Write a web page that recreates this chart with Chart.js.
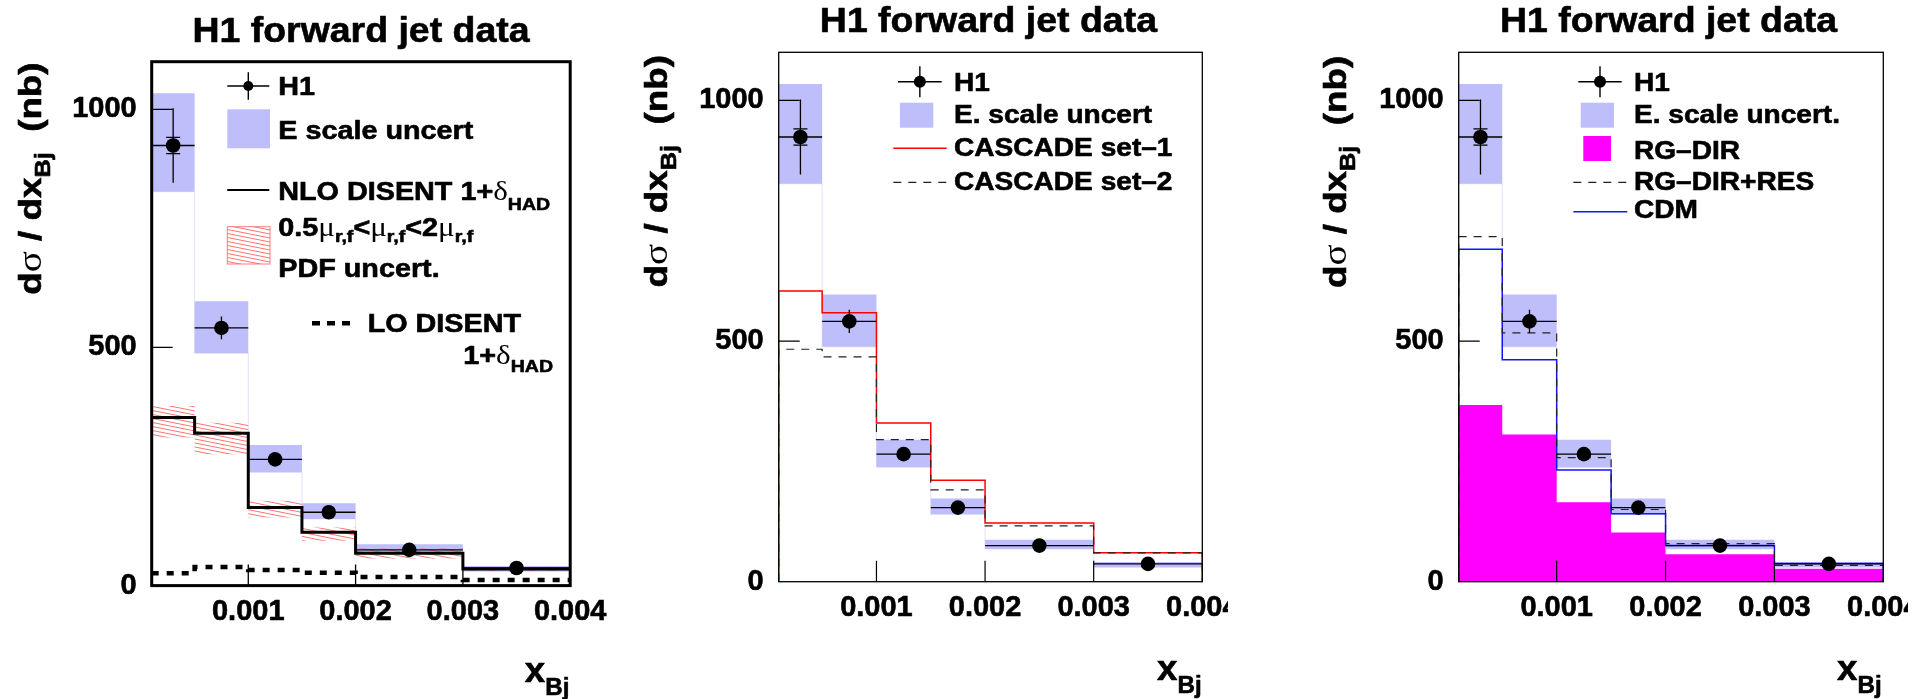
<!DOCTYPE html>
<html>
<head>
<meta charset="utf-8">
<title>H1 forward jet data</title>
<script src="https://cdn.jsdelivr.net/npm/chart.js@4.4.1/dist/chart.umd.min.js"></script>
<style>
  html, body { margin: 0; padding: 0; background: #fff; }
  body { width: 1915px; height: 699px; position: relative; overflow: hidden; }
  canvas { position: absolute; top: 0; }
</style>
</head>
<body>
<canvas id="panel1" width="640" height="699" style="left:0px"></canvas>
<canvas id="panel2" width="588" height="699" style="left:640px"></canvas>
<canvas id="panel3" width="608" height="699" style="left:1300px"></canvas>
<script>
// x_Bj bins
const xEdges = [0.0001, 0.0005, 0.001, 0.0015, 0.002, 0.003, 0.004];
const xCenters = [0.0003, 0.00075, 0.00125, 0.00175, 0.0025, 0.0035];
const xTicks = [0.001, 0.002, 0.003, 0.004];
const yTicks = [0, 500, 1000];

// H1 data, dsigma/dx_Bj in nb
const h1Values = [924, 541, 265, 154, 75, 37];
const h1TotErr = [78, 24, 10, 6, 3, 2];
const h1StatErr = [17, 8, 4, 3, 2, 1];
const escaleUp = [1034, 597, 295, 173, 87, 41];
const escaleDown = [827, 488, 238, 140, 68, 30];

// left: DISENT
const nloDisent = [353, 320, 164, 112, 68, 35];
const nloBandUp = [377, 342, 178, 122, 78, 38];
const nloBandDown = [311, 276, 143, 94, 57, 31];
const loDisent = [26, 39, 33, 27, 18, 12];

// middle: CASCADE
const cascadeSet1 = [604, 559, 330, 211, 122, 60];
const cascadeSet2 = [483, 467, 295, 191, 116, 60];

// right: RAPGAP / CDM
const rgDir = [367, 306, 165, 102, 57, 27];
const rgDirRes = [717, 517, 258, 150, 79, 34];
const cdm = [691, 461, 232, 141, 75, 38];

const ESCALE = '#bebefa';
const B = s => `bold ${s}px "Liberation Sans", Arial, Helvetica, sans-serif`;
const G = s => `${s}px "Liberation Serif", "Times New Roman", serif`;

// hatch for the scale / pdf band
const hatchCanvas = document.createElement('canvas');
hatchCanvas.width = 20; hatchCanvas.height = 4;
const hg = hatchCanvas.getContext('2d');
hg.strokeStyle = 'rgba(255,80,80,0.9)';
hg.lineWidth = 0.9;
for (let k = -1; k <= 1; k++) {
  hg.beginPath(); hg.moveTo(0, 4 * k); hg.lineTo(20, 4 * k + 4); hg.stroke();
}
const hatch = hg.createPattern(hatchCanvas, 'repeat');

function steps(vals, fromZero) {
  const pts = [];
  const last = xEdges.length - 1;
  if (fromZero) pts.push({x: xEdges[0], y: 0});
  vals.forEach((v, i) => pts.push({x: xEdges[i], y: v}));
  pts.push({x: xEdges[last], y: vals[vals.length - 1]});
  if (fromZero) pts.push({x: xEdges[last], y: 0});
  return pts;
}

function stepLine(vals, color, width, dash, order, fromZero) {
  return {type: 'line', data: steps(vals, fromZero), stepped: true, borderColor: color,
    borderWidth: width, borderDash: dash, pointRadius: 0, fill: false, order: order};
}

function band(up, down, bg, edge, order) {
  return [
    {type: 'line', data: steps(up), stepped: true, borderColor: 'rgba(0,0,0,0)', borderWidth: 1,
      backgroundColor: bg, fill: '+1', pointRadius: 0, order: order},
    {type: 'line', data: steps(down), stepped: true, borderColor: edge, borderWidth: 1,
      fill: false, pointRadius: 0, order: order + 0.5}
  ];
}

function h1Set() {
  return {type: 'scatter', data: xCenters.map((x, i) => ({x: x, y: h1Values[i]})),
    pointRadius: 7.3, pointBackgroundColor: '#000', pointBorderColor: '#000', pointBorderWidth: 0,
    showLine: false, order: 0};
}

function makeScales(yW, xH) {
  const font = {family: '"Liberation Sans", Arial, sans-serif', size: 29, weight: 'bold', lineHeight: 1.2};
  const tk = {font: font, color: '#000', textStrokeColor: '#000', textStrokeWidth: 0.6, autoSkip: false};
  return {
    x: {
      type: 'linear', min: xEdges[0], max: xEdges[xEdges.length - 1],
      grid: {display: false, drawTicks: false}, border: {display: false},
      afterBuildTicks: a => { a.ticks = xTicks.map(v => ({value: v})); },
      afterFit: a => { a.height = xH; a.paddingLeft = 0; a.paddingRight = 0; },
      ticks: Object.assign({}, tk, {padding: 9, maxRotation: 0, minRotation: 0, callback: v => v.toFixed(3)})
    },
    y: {
      type: 'linear', min: 0, max: 1100,
      grid: {display: false, drawTicks: false}, border: {display: false},
      afterBuildTicks: a => { a.ticks = yTicks.map(v => ({value: v})); },
      afterFit: a => { a.width = yW; a.paddingTop = 0; a.paddingBottom = 0; },
      ticks: Object.assign({}, tk, {padding: 15, callback: v => String(v)})
    }
  };
}

// text with sub/superscripts, stretched a little like the original
function rich(ctx, x, y, segs, opt) {
  const sx = opt.stretch || 1;
  ctx.save();
  ctx.translate(x, y);
  if (opt.rotate) ctx.rotate(opt.rotate);
  ctx.fillStyle = '#000';
  ctx.strokeStyle = '#000';
  ctx.lineWidth = 0.6;
  ctx.lineJoin = 'round';
  ctx.textBaseline = 'alphabetic';
  ctx.textAlign = 'left';
  let total = 0;
  const widths = segs.map(s => {
    ctx.font = s[1];
    const w = ctx.measureText(s[0]).width * sx;
    total += w;
    return w;
  });
  let cx = opt.align === 'right' ? -total : (opt.align === 'center' ? -total / 2 : 0);
  segs.forEach((s, i) => {
    ctx.font = s[1];
    ctx.save();
    ctx.translate(cx, s[2] || 0);
    ctx.scale(sx, 1);
    ctx.fillText(s[0], 0, 0);
    if (s[1].startsWith('bold')) ctx.strokeText(s[0], 0, 0);
    ctx.restore();
    cx += widths[i];
  });
  ctx.restore();
}

function title(ctx, cx, base) {
  rich(ctx, cx, base, [['H1 forward jet data', B(35)]], {align: 'center', stretch: 1.07});
}
function yTitle(ctx, bx, topY) {
  rich(ctx, bx, topY, [['d', B(32)], ['σ', G(34)], [' / dx', B(32)], ['Bj', B(22), 9], ['  (nb)', B(32)]],
    {rotate: -Math.PI / 2, align: 'right', stretch: 1.15});
}
function xTitle(ctx, right, base) {
  rich(ctx, right, base, [['x', B(35)], ['Bj', B(23), 13]], {align: 'right', stretch: 1.05});
}
function keyLine(ctx, x0, x1, y, color, w, dash) {
  ctx.save();
  ctx.strokeStyle = color; ctx.lineWidth = w; ctx.setLineDash(dash);
  ctx.beginPath(); ctx.moveTo(x0, y); ctx.lineTo(x1, y); ctx.stroke();
  ctx.restore();
}
function h1Key(ctx, x0, x1, y, r, h) {
  const c = (x0 + x1) / 2;
  ctx.save();
  ctx.strokeStyle = '#000'; ctx.lineWidth = 1.4;
  ctx.beginPath();
  ctx.moveTo(x0, y); ctx.lineTo(x1, y);
  ctx.moveTo(c, y - h); ctx.lineTo(c, y + h);
  ctx.stroke();
  ctx.fillStyle = '#000';
  ctx.beginPath(); ctx.arc(c, y, r, 0, 2 * Math.PI); ctx.fill();
  ctx.restore();
}

function panelPlugin(opts) {
  return {
    id: 'h1panel',
    afterDatasetsDraw(chart) {
      const {ctx, chartArea: a} = chart;
      const xs = chart.scales.x, ys = chart.scales.y;
      ctx.save();
      ctx.strokeStyle = '#000';
      ctx.setLineDash([]);
      ctx.lineWidth = 1.3;
      ctx.beginPath();
      h1Values.forEach((v, i) => {
        const px = xs.getPixelForValue(xCenters[i]);
        const py = ys.getPixelForValue(v);
        ctx.moveTo(xs.getPixelForValue(xEdges[i]), py);
        ctx.lineTo(xs.getPixelForValue(xEdges[i + 1]), py);
        ctx.moveTo(px, ys.getPixelForValue(v + h1TotErr[i]));
        ctx.lineTo(px, ys.getPixelForValue(v - h1TotErr[i]));
        const cap = py - ys.getPixelForValue(v + h1StatErr[i]);
        if (cap > 8) {
          [v + h1StatErr[i], v - h1StatErr[i]].forEach(e => {
            const ey = ys.getPixelForValue(e);
            ctx.moveTo(px - 7, ey); ctx.lineTo(px + 7, ey);
          });
        }
      });
      ctx.stroke();
      // inward tick marks
      ctx.lineWidth = opts.tickW;
      ctx.beginPath();
      yTicks.forEach(t => {
        if (t > 0) { const py = ys.getPixelForValue(t); ctx.moveTo(a.left, py); ctx.lineTo(a.left + 21, py); }
      });
      xTicks.forEach(t => {
        const px = xs.getPixelForValue(t);
        if (px < a.right - 1) { ctx.moveTo(px, a.bottom); ctx.lineTo(px, a.bottom - 21); }
      });
      ctx.stroke();
      ctx.lineWidth = opts.frameW;
      ctx.strokeRect(a.left, a.top, a.right - a.left, a.bottom - a.top);
      ctx.restore();
    },
    afterDraw(chart) {
      const ctx = chart.ctx;
      ctx.save();
      ctx.translate(-opts.offset, 0);
      opts.texts(ctx);
      ctx.restore();
    }
  };
}

function makeChart(id, datasets, lay, plugin) {
  return new Chart(document.getElementById(id), {
    type: 'line',
    data: {datasets: datasets},
    options: {
      responsive: false, animation: false, events: [],
      layout: {padding: {left: 0, right: lay.right, top: lay.top, bottom: 0}},
      plugins: {legend: {display: false}, tooltip: {enabled: false}},
      scales: makeScales(lay.yW, lay.xH)
    },
    plugins: [plugin]
  });
}

// ---- left panel
makeChart('panel1', [
  h1Set(),
  stepLine(nloDisent, '#000', 3, [], 2, false),
  stepLine(loDisent, '#000', 4.5, [7, 8], 3, false),
  ...band(nloBandUp, nloBandDown, hatch, 'rgba(0,0,0,0)', 5),
  ...band(escaleUp, escaleDown, ESCALE, 'rgba(190,190,250,0.45)', 8)
], {yW: 151.7, right: 69.8, top: 61.7, xH: 113.4}, panelPlugin({
  offset: 0, frameW: 3, tickW: 1.3,
  texts(ctx) {
    title(ctx, 361, 42.4);
    yTitle(ctx, 40.8, 62.4);
    xTitle(ctx, 569.4, 682);
    h1Key(ctx, 227.3, 269.3, 86, 5, 13.7);
    ctx.fillStyle = ESCALE; ctx.fillRect(227.3, 109.3, 42.7, 39);
    keyLine(ctx, 227.3, 269.3, 190, '#000', 2, []);
    ctx.fillStyle = hatch; ctx.fillRect(227.3, 226.7, 42.7, 37.3);
    ctx.strokeStyle = 'rgba(255,110,110,0.9)'; ctx.lineWidth = 1; ctx.strokeRect(227.3, 226.7, 42.7, 37.3);
    keyLine(ctx, 312, 350, 323.3, '#000', 4.5, [8, 7]);
    const L = {stretch: 1.15};
    rich(ctx, 278.3, 95.3, [['H1', B(25)]], L);
    rich(ctx, 278.3, 138.7, [['E scale uncert', B(25)]], L);
    rich(ctx, 278.3, 200.2, [['NLO DISENT 1+', B(25)], ['δ', G(27)], ['HAD', B(17), 10]], L);
    rich(ctx, 278.3, 236, [['0.5', B(25)], ['μ', G(27)], ['r,f', B(17), 6], ['<', B(25)], ['μ', G(27)],
      ['r,f', B(17), 6], ['<2', B(25)], ['μ', G(27)], ['r,f', B(17), 6]], L);
    rich(ctx, 278.3, 276.8, [['PDF uncert.', B(25)]], L);
    rich(ctx, 367.7, 332.3, [['LO DISENT', B(25)]], L);
    rich(ctx, 553, 364, [['1+', B(25)], ['δ', G(27)], ['HAD', B(17), 8]], {stretch: 1.15, align: 'right'});
  }
}));

// ---- middle panel
makeChart('panel2', [
  h1Set(),
  stepLine(cascadeSet2, '#222', 1.2, [8, 7], 1, true),
  stepLine(cascadeSet1, '#ff0000', 1.5, [], 2, true),
  ...band(escaleUp, escaleDown, ESCALE, 'rgba(190,190,250,0.45)', 8)
], {yW: 138.7, right: 25.7, top: 52.3, xH: 117.3}, panelPlugin({
  offset: 640, frameW: 1.3, tickW: 1.2,
  texts(ctx) {
    title(ctx, 988.4, 32.2);
    yTitle(ctx, 667, 55);
    xTitle(ctx, 1201.7, 680);
    h1Key(ctx, 898, 941.7, 81.7, 6, 15.5);
    ctx.fillStyle = ESCALE; ctx.fillRect(900, 102.7, 33.3, 25);
    keyLine(ctx, 893.3, 946.7, 148.3, '#ff0000', 1.5, []);
    keyLine(ctx, 893.3, 946.7, 182.3, '#222', 1.3, [8, 7]);
    const L = {stretch: 1.08};
    rich(ctx, 954, 90.6, [['H1', B(26)]], L);
    rich(ctx, 954, 122.8, [['E. scale uncert', B(26)]], L);
    rich(ctx, 954, 155.5, [['CASCADE set–1', B(26)]], L);
    rich(ctx, 954, 189.8, [['CASCADE set–2', B(26)]], L);
  }
}));

// ---- right panel
makeChart('panel3', [
  h1Set(),
  stepLine(rgDirRes, '#222', 1.2, [8, 7], 1, true),
  stepLine(cdm, '#1414ff', 1.5, [], 2, true),
  ...band(escaleUp, escaleDown, ESCALE, 'rgba(190,190,250,0.45)', 8),
  {type: 'line', data: steps(rgDir, true), stepped: true, borderColor: 'rgba(0,0,0,0)', borderWidth: 1,
    backgroundColor: '#ff00ff', fill: 'origin', pointRadius: 0, order: 10}
], {yW: 158.7, right: 24.7, top: 52.3, xH: 117.3}, panelPlugin({
  offset: 1300, frameW: 1.3, tickW: 1.2,
  texts(ctx) {
    title(ctx, 1668.5, 32.2);
    yTitle(ctx, 1346, 55.7);
    xTitle(ctx, 1881.7, 680);
    h1Key(ctx, 1578.3, 1621.7, 81.7, 6, 15.5);
    ctx.fillStyle = ESCALE; ctx.fillRect(1580.7, 102.7, 33.3, 25);
    ctx.fillStyle = '#ff00ff'; ctx.fillRect(1583.3, 136, 27.7, 25);
    keyLine(ctx, 1573.3, 1627.3, 182.3, '#222', 1.3, [8, 7]);
    keyLine(ctx, 1573.3, 1627.3, 211.7, '#1414ff', 1.5, []);
    const L = {stretch: 1.08};
    rich(ctx, 1634, 90.6, [['H1', B(26)]], L);
    rich(ctx, 1634, 122.8, [['E. scale uncert.', B(26)]], L);
    rich(ctx, 1634, 159, [['RG–DIR', B(26)]], L);
    rich(ctx, 1634, 190.3, [['RG–DIR+RES', B(26)]], L);
    rich(ctx, 1634, 218.3, [['CDM', B(26)]], L);
  }
}));
</script>
</body>
</html>
